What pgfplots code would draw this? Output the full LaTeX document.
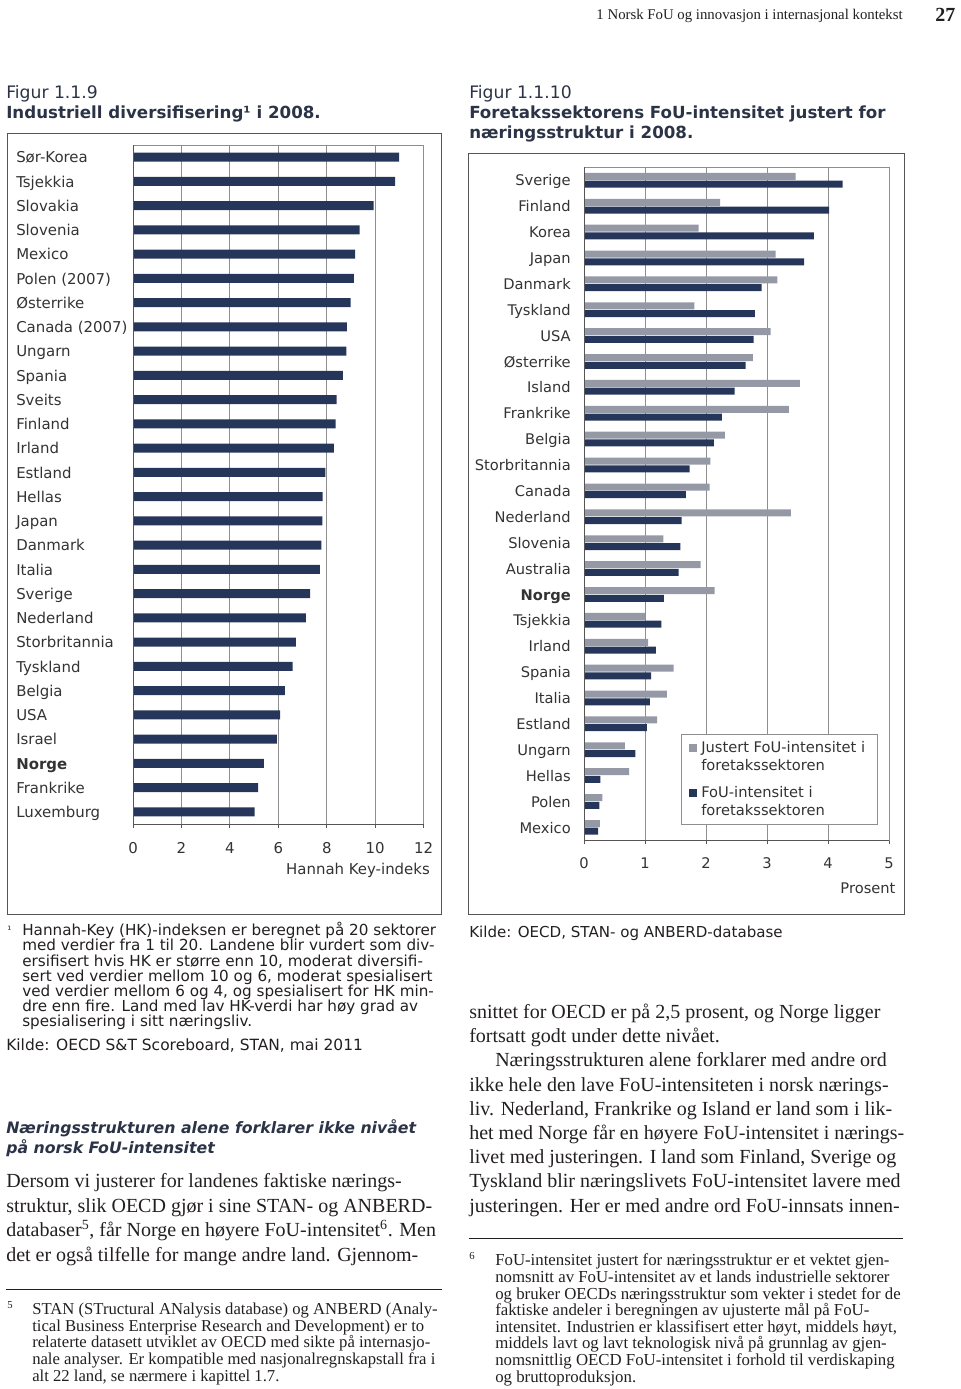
\documentclass[border=0pt]{standalone}
\usepackage{fontspec}
\setmainfont{Liberation Serif}
\newfontfamily\vs{DejaVu Sans}
\usepackage{pgfplots}
\pgfplotsset{compat=1.18}
\definecolor{navy}{HTML}{26365A}
\definecolor{lgray}{HTML}{9599A6}
\definecolor{gridc}{HTML}{8E8E8E}
\definecolor{txt}{HTML}{333333}
\definecolor{frame}{HTML}{555555}
\definecolor{ttl}{HTML}{2B3346}
\definecolor{body}{HTML}{231F20}
\newcommand\fz[2]{\fontsize{#1bp}{#2bp}\selectfont}
\begin{document}
\begin{tikzpicture}
\begin{scope}[x=0.75bp,y=-0.75bp]
\path[use as bounding box] (0,0) rectangle (960,1389);
% header
\node[anchor=base east,inner sep=0,font=\fz{11.1}{13},text=body] at (903,20) {1 Norsk FoU og innovasjon i internasjonal kontekst};
\node[anchor=base west,inner sep=0,font=\bfseries\fz{15}{18},text=body] at (935,21.5) {27};
% titles
\node[anchor=base west,inner sep=0,font=\vs\fz{12.9}{15},text=ttl] at (6,99) {Figur 1.1.9};
\node[anchor=base west,inner sep=0,font=\vs\bfseries\fz{12.5}{15},text=ttl] at (6,118.5) {Industriell diversifisering¹ i 2008.};
\node[anchor=base west,inner sep=0,font=\vs\fz{12.9}{15},text=ttl] at (469,99) {Figur 1.1.10};
\node[anchor=base west,inner sep=0,font=\vs\bfseries\fz{12.5}{15},text=ttl] at (469,119) {Foretakssektorens FoU-intensitet justert for};
\node[anchor=base west,inner sep=0,font=\vs\bfseries\fz{12.5}{15},text=ttl] at (469,138.5) {næringsstruktur i 2008.};
% outer boxes
\draw[frame,line width=0.75bp] (7,133.3) rectangle (441.5,914);
\draw[frame,line width=0.75bp] (468.3,154) rectangle (904,914);
\end{scope}
% left chart
\begin{axis}[at={(99.75bp,-108.75bp)},anchor=north west,scale only axis,
  width=218bp,height=509.25bp,
  xbar,xmin=0,xmax=12,ymin=0.5,ymax=28.5,y dir=reverse,clip=false,
  ytick={1,...,28},
  yticklabels={Sør-Korea,Tsjekkia,Slovakia,Slovenia,Mexico,Polen (2007),Østerrike,Canada (2007),Ungarn,Spania,Sveits,Finland,Irland,Estland,Hellas,Japan,Danmark,Italia,Sverige,Nederland,Storbritannia,Tyskland,Belgia,USA,Israel,\textbf{Norge},Frankrike,Luxemburg},
  ytick style={draw=none},
  xtick={0,2,...,12},xtick pos=left,tick align=outside,major tick length=3bp,
  x tick style={frame,line width=0.75bp},
  xmajorgrids,grid style={gridc,line width=0.75bp},
  axis line style={gridc,line width=0.75bp},
  /pgf/number format/assume math mode=true,
  ticklabel style={font=\vs\fz{11.2}{13},text=txt},
  yticklabel style={anchor=west,inner sep=0pt,xshift=-84.75bp,yshift=-1.5bp,text height=0.75em,text depth=0.2em},
  xticklabel style={anchor=center,inner sep=0pt,yshift=-15.2bp},
  xlabel={Hannah Key-indeks},
  xlabel style={font=\vs\fz{11.2}{13},text=txt,at={(axis description cs:1.022,-0.0688)},anchor=east,inner sep=0pt},
  bar width=6.75bp]
\addplot[fill=navy,draw=none] coordinates {
(10.99,1) (10.82,2) (9.93,3) (9.36,4) (9.17,5) (9.12,6) (8.98,7) (8.83,8) (8.81,9) (8.66,10)
(8.41,11) (8.37,12) (8.29,13) (7.94,14) (7.83,15) (7.82,16) (7.78,17) (7.71,18) (7.31,19) (7.14,20)
(6.72,21) (6.59,22) (6.27,23) (6.07,24) (5.94,25) (5.40,26) (5.17,27) (5.02,28)};
\draw[frame,line width=0.75bp] (axis cs:0,0.5) -- (axis cs:0,28.5) -- (axis cs:12,28.5);
\end{axis}
% right chart
\begin{axis}[at={(438bp,-125.475bp)},anchor=north west,scale only axis,
  width=228.75bp,height=504.75bp,
  xbar,xmin=0,xmax=5,ymin=0.5,ymax=26.5,y dir=reverse,clip=false,
  ytick={1,...,26},
  yticklabels={Sverige,Finland,Korea,Japan,Danmark,Tyskland,USA,Østerrike,Island,Frankrike,Belgia,Storbritannia,Canada,Nederland,Slovenia,Australia,\textbf{Norge},Tsjekkia,Irland,Spania,Italia,Estland,Ungarn,Hellas,Polen,Mexico},
  ytick style={draw=none},
  xtick={0,1,...,5},xtick pos=left,tick align=outside,major tick length=3bp,
  x tick style={frame,line width=0.75bp},
  xmajorgrids,grid style={gridc,line width=0.75bp},
  axis line style={gridc,line width=0.75bp},
  /pgf/number format/assume math mode=true,
  ticklabel style={font=\vs\fz{11}{13},text=txt},
  yticklabel style={anchor=east,inner sep=0pt,xshift=-6.75bp,yshift=-1.5bp,text height=0.75em,text depth=0.2em},
  xticklabel style={anchor=center,inner sep=0pt,yshift=-14.3bp},
  xlabel={Prosent},
  xlabel style={font=\vs\fz{11}{13},text=txt,at={(axis description cs:1.022,-0.0709)},anchor=east,inner sep=0pt},
  bar width=5.25bp]
\addplot[fill=lgray,draw=none,bar shift=2.9bp] coordinates {
(3.47,1) (2.23,2) (1.88,3) (3.14,4) (3.17,5) (1.81,6) (3.06,7) (2.77,8) (3.54,9) (3.36,10)
(2.31,11) (2.07,12) (2.06,13) (3.39,14) (1.30,15) (1.91,16) (2.14,17) (1.00,18) (1.05,19) (1.47,20)
(1.36,21) (1.20,22) (0.67,23) (0.74,24) (0.30,25) (0.26,26)};
\addplot[fill=navy,draw=none,bar shift=-2.9bp] coordinates {
(4.24,1) (4.02,2) (3.77,3) (3.61,4) (2.91,5) (2.80,6) (2.78,7) (2.65,8) (2.47,9) (2.26,10)
(2.13,11) (1.73,12) (1.67,13) (1.60,14) (1.58,15) (1.55,16) (1.31,17) (1.27,18) (1.18,19) (1.10,20)
(1.08,21) (1.03,22) (0.84,23) (0.27,24) (0.25,25) (0.23,26)};
\draw[frame,line width=0.75bp] (axis cs:0,0.5) -- (axis cs:0,26.5) -- (axis cs:5,26.5);
\end{axis}
\begin{scope}[x=0.75bp,y=-0.75bp]
% legend
\draw[gridc,line width=0.75bp,fill=white] (681.7,734.3) rectangle (877.3,824);
\fill[lgray] (689,744) rectangle (697,752);
\fill[navy] (689,789) rectangle (697,797);
\node[anchor=base west,inner sep=0,align=left,font=\vs\fz{11}{13.5},text=txt] at (701,770) {Justert FoU-intensitet i\\foretakssektoren};
\node[anchor=base west,inner sep=0,align=left,font=\vs\fz{11}{13.5},text=txt] at (701,815) {FoU-intensitet i\\foretakssektoren};
% footnote 1
\node[anchor=base west,inner sep=0,font=\vs\fz{7.5}{9},text=body] at (7,933) {¹};
\node[anchor=base west,inner sep=0,align=left,font=\vs\fz{11.4}{11.33},text=body] at (22,1026.5) {Hannah-Key (HK)-indeksen er beregnet på 20 sektorer\\med verdier fra 1 til 20. Landene blir vurdert som div-\\ersifisert hvis HK er større enn 10, moderat diversifi-\\sert ved verdier mellom 10 og 6, moderat spesialisert\\ved verdier mellom 6 og 4, og spesialisert for HK min-\\dre enn fire. Land med lav HK-verdi har høy grad av\\spesialisering i sitt næringsliv.};
\node[anchor=base west,inner sep=0,font=\vs\fz{11.6}{13},text=body] at (6,1050) {Kilde: OECD S\&T Scoreboard, STAN, mai 2011};
\node[anchor=base west,inner sep=0,font=\vs\fz{11.3}{13},text=body] at (469,937) {Kilde: OECD, STAN- og ANBERD-database};
% heading
\node[anchor=base west,inner sep=0,align=left,font=\vs\bfseries\itshape\fz{11.8}{15},text=ttl] at (6,1153) {Næringsstrukturen alene forklarer ikke nivået\\på norsk FoU-intensitet};
% body left
\node[anchor=base west,inner sep=0,align=left,font=\fz{15}{18.3},text=body] at (6,1261) {Dersom vi justerer for landenes faktiske nærings-\\struktur, slik OECD gjør i sine STAN- og ANBERD-\\databaser\textsuperscript{5}, får Norge en høyere FoU-intensitet\textsuperscript{6}. Men\\det er også tilfelle for mange andre land. Gjennom-};
\draw[body,line width=0.75bp] (6,1289) -- (441.5,1289);
\node[anchor=base west,inner sep=0,font=\fz{8}{9},text=body] at (7,1308) {5};
\node[anchor=base west,inner sep=0,align=left,font=\fz{12.5}{12.5},text=body] at (32,1381) {STAN (STructural ANalysis database) og ANBERD (Analy-\\tical Business Enterprise Research and Development) er to\\relaterte datasett utviklet av OECD med sikte på internasjo-\\nale analyser. Er kompatible med nasjonalregnskapstall fra i\\alt 22 land, se nærmere i kapittel 1.7.};
% body right
\node[anchor=base west,inner sep=0,align=left,font=\fz{15}{18.15},text=body] at (469,1212) {snittet for OECD er på 2,5 prosent, og Norge ligger\\fortsatt godt under dette nivået.\\\hspace*{19.5bp}Næringsstrukturen alene forklarer med andre ord\\ikke hele den lave FoU-intensiteten i norsk nærings-\\liv. Nederland, Frankrike og Island er land som i lik-\\het med Norge får en høyere FoU-intensitet i nærings-\\livet med justeringen. I land som Finland, Sverige og\\Tyskland blir næringslivets FoU-intensitet lavere med\\justeringen. Her er med andre ord FoU-innsats innen-};
\draw[body,line width=0.75bp] (469,1238) -- (903,1238);
\node[anchor=base west,inner sep=0,font=\fz{8}{9},text=body] at (469,1259) {6};
\node[anchor=base west,inner sep=0,align=left,font=\fz{12.6}{12.45},text=body] at (495,1382) {FoU-intensitet justert for næringsstruktur er et vektet gjen-\\nomsnitt av FoU-intensitet av et lands industrielle sektorer\\og bruker OECDs næringsstruktur som vekter i stedet for de\\faktiske andeler i beregningen av ujusterte mål på FoU-\\intensitet. Industrien er klassifisert etter høyt, middels høyt,\\middels lavt og lavt teknologisk nivå på grunnlag av gjen-\\nomsnittlig OECD FoU-intensitet i forhold til verdiskaping\\og bruttoproduksjon.};
\end{scope}
\end{tikzpicture}
\end{document}
